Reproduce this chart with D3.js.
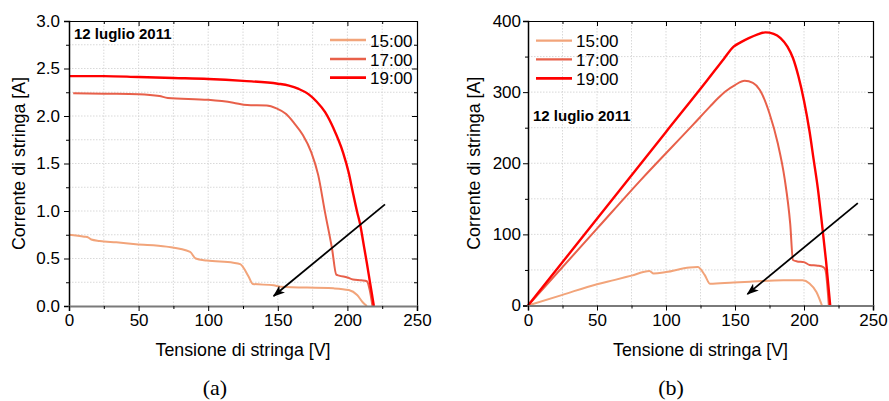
<!DOCTYPE html>
<html><head><meta charset="utf-8">
<script src="https://cdn.jsdelivr.net/npm/d3@7"></script>
<style>body{margin:0;background:#fff} svg{display:block}</style>
</head><body><svg id="c" width="889" height="401"></svg>
<script>
// ---------- data ----------
const seriesNames = ["15:00", "17:00", "19:00"];
const dateLabel = "12 luglio 2011";
const xTitle = "Tensione di stringa [V]";
const yTitle = "Corrente di stringa [A]";
const panelLabels = ["(a)", "(b)"];

const xTicks = [0, 50, 100, 150, 200, 250];
const xMinorTicks = [25, 75, 125, 175, 225];
const iTicks = [0, 0.5, 1.0, 1.5, 2.0, 2.5, 3.0];
const iMinorTicks = [0.25, 0.75, 1.25, 1.75, 2.25, 2.75];
const pTicks = [0, 100, 200, 300, 400];
const pMinorTicks = [50, 150, 250, 350];

// panel (a): current vs voltage
const ivV15 = [0, 11, 14, 16, 22, 34, 48, 70, 87, 91, 99, 118, 123, 129, 132, 147, 152, 190, 201, 207, 211, 214];
const ivI15 = [0.75, 0.73, 0.72, 0.70, 0.685, 0.67, 0.65, 0.625, 0.57, 0.50, 0.478, 0.456, 0.44, 0.31, 0.232, 0.218, 0.203, 0.186, 0.168, 0.116, 0.04, 0.0];
const ivV17 = [3, 25, 50, 65, 71, 100, 118, 128, 142, 149, 156, 162, 168, 174, 179, 184, 189, 192, 194, 200, 204, 210, 214, 216, 218];
const ivI17 = [2.24, 2.235, 2.23, 2.21, 2.19, 2.17, 2.14, 2.115, 2.11, 2.08, 2.02, 1.92, 1.80, 1.62, 1.38, 0.98, 0.60, 0.33, 0.32, 0.30, 0.28, 0.27, 0.26, 0.17, 0.0];
const ivV19 = [0, 25, 50, 75, 100, 125, 150, 158, 165, 172, 178, 184, 190, 197, 201, 204, 207, 209, 212, 214, 216, 218, 219];
const ivI19 = [2.42, 2.42, 2.41, 2.40, 2.39, 2.37, 2.34, 2.32, 2.285, 2.23, 2.15, 2.04, 1.87, 1.61, 1.40, 1.19, 0.99, 0.87, 0.62, 0.45, 0.27, 0.09, 0.0];

// panel (b): power-like curve vs voltage
const pvV15 = [0, 25, 50, 63, 75, 88, 91, 100, 117, 123, 128, 132, 149, 161, 185, 199, 204, 209, 213];
const pvP15 = [0, 15, 30, 36, 42, 48.5, 45, 47, 53.5, 54, 43, 30.5, 32.5, 33.5, 35.5, 35.5, 31, 19, 0];
const pvV17 = [0, 50, 82, 120, 132, 138, 143, 150, 157, 163, 168, 175, 181, 186, 190, 192, 195, 200, 204, 210, 214, 215.5, 218];
const pvP17 = [0, 108, 177, 255, 280, 292, 301, 310, 316, 313, 303, 270, 228, 178, 115, 64, 62, 61, 57, 56, 54, 50, 0];
const pvV19 = [0, 50, 100, 130, 142, 149, 154, 160, 166, 172, 178, 183, 188, 192, 196, 200, 204, 207, 210, 213, 216, 219];
const pvP19 = [0, 122, 244, 317, 347, 364, 370, 376, 381, 384, 382, 376, 364, 348, 322, 288, 245, 205, 165, 115, 62, 0];

// arrows [x0, y0, x1(tip), y1(tip)] in data units
const arrowA = [227, 1.07, 147, 0.105];
const arrowB = [239, 144, 159, 16];

// ---------- styles ----------
const colors = ["#F2A47A", "#E8604A", "#FF0000"];
const widths = [2, 2, 2.4];
const FONT = "'Liberation Sans', Arial, Helvetica, sans-serif";

const svg = d3.select("#c");
const defs = svg.append("defs");
defs.append("marker").attr("id", "ah").attr("markerUnits", "userSpaceOnUse")
  .attr("viewBox", "0 0 12 9").attr("markerWidth", 12).attr("markerHeight", 9)
  .attr("refX", 11).attr("refY", 4.5).attr("orient", "auto")
  .append("path").attr("d", "M0,0 L12,4.5 L0,9 L3,4.5 Z").attr("fill", "#000");

function panel(cfg) {
  const x = d3.scaleLinear().domain([0, 250]).range([cfg.x0, cfg.x1]);
  const y = d3.scaleLinear().domain(cfg.yDomain).range([cfg.y0, cfg.y1]);
  const g = svg.append("g");

  // grid
  const grid = g.append("g").attr("stroke", "#cfcfcf").attr("stroke-width", 0.8).attr("stroke-dasharray", "1.5,1.5");
  xTicks.concat(xMinorTicks).filter(v => v > 0 && v < 250).forEach(v =>
    grid.append("line").attr("x1", x(v)).attr("x2", x(v)).attr("y1", cfg.y0).attr("y2", cfg.y1));
  cfg.yTicks.concat(cfg.yMinor).filter(v => v > cfg.yDomain[0] && v < cfg.yDomain[1]).forEach(v =>
    grid.append("line").attr("y1", y(v)).attr("y2", y(v)).attr("x1", cfg.x0).attr("x2", cfg.x1));

  // curves
  cfg.series.forEach((s, i) => {
    const pts = s[0].map((v, k) => [v, s[1][k]]);
    g.append("path").datum(pts)
      .attr("d", d3.line().x(d => x(d[0])).y(d => y(d[1])).curve(d3.curveMonotoneX))
      .attr("fill", "none").attr("stroke", colors[i]).attr("stroke-width", widths[i])
      .attr("stroke-linejoin", "round");
  });

  // arrow
  const a = cfg.arrow;
  g.append("line").attr("x1", x(a[0])).attr("y1", y(a[1])).attr("x2", x(a[2])).attr("y2", y(a[3]))
    .attr("stroke", "#000").attr("stroke-width", 1.8).attr("marker-end", "url(#ah)");

  // axes
  const styleAx = sel => { sel.selectAll("text").attr("font-family", FONT).attr("font-size", 17).attr("fill", "#000");
    sel.selectAll("line").attr("stroke", "#000").attr("stroke-width", 1); };
  // top (inward)
  g.append("g").attr("transform", `translate(0,${cfg.y1})`)
    .call(d3.axisTop(x).tickValues(xTicks).tickSize(-5).tickFormat("")).call(styleAx)
    .call(s => s.select(".domain").attr("stroke", "#000").attr("stroke-width", 1));
  g.append("g").attr("transform", `translate(0,${cfg.y1})`)
    .call(d3.axisTop(x).tickValues(xMinorTicks).tickSize(-3).tickFormat("")).call(styleAx)
    .call(s => s.select(".domain").remove());
  // right (inward)
  g.append("g").attr("transform", `translate(${cfg.x1},0)`)
    .call(d3.axisRight(y).tickValues(cfg.yTicks).tickSize(-5).tickFormat("")).call(styleAx)
    .call(s => s.select(".domain").attr("stroke", "#000").attr("stroke-width", 1.2));
  g.append("g").attr("transform", `translate(${cfg.x1},0)`)
    .call(d3.axisRight(y).tickValues(cfg.yMinor).tickSize(-3).tickFormat("")).call(styleAx)
    .call(s => s.select(".domain").remove());
  // left
  g.append("g").attr("transform", `translate(${cfg.x0},0)`)
    .call(d3.axisLeft(y).tickValues(cfg.yTicks).tickSize(5).tickPadding(cfg.yPad).tickFormat(cfg.yFmt)).call(styleAx)
    .call(s => s.select(".domain").attr("stroke", "#000").attr("stroke-width", 1.5));
  g.append("g").attr("transform", `translate(${cfg.x0},0)`)
    .call(d3.axisLeft(y).tickValues(cfg.yMinor).tickSize(3).tickFormat("")).call(styleAx)
    .call(s => s.select(".domain").remove());
  // bottom
  g.append("g").attr("transform", `translate(0,${cfg.y0})`)
    .call(d3.axisBottom(x).tickValues(xTicks).tickSize(5).tickPadding(3).tickFormat(d3.format("d"))).call(styleAx)
    .call(s => s.select(".domain").attr("stroke", "#7a7a7a").attr("stroke-width", 2));
  g.append("g").attr("transform", `translate(0,${cfg.y0})`)
    .call(d3.axisBottom(x).tickValues(xMinorTicks).tickSize(3).tickFormat("")).call(styleAx)
    .call(s => s.select(".domain").remove());

  // titles
  g.append("text").attr("x", (cfg.x0 + cfg.x1) / 2).attr("y", 356).attr("text-anchor", "middle")
    .attr("font-family", FONT).attr("font-size", 17.8).text(xTitle);
  g.append("text").attr("transform", `translate(${cfg.yTitleX},${(cfg.y0 + cfg.y1) / 2}) rotate(-90)`)
    .attr("text-anchor", "middle").attr("font-family", FONT).attr("font-size", 17.8).text(yTitle);
  g.append("text").attr("x", cfg.labelX).attr("y", 395).attr("text-anchor", "middle")
    .attr("font-family", "'Liberation Serif', 'Times New Roman', serif").attr("font-size", 22).text(cfg.label);

  // date
  g.append("text").attr("x", cfg.dateX).attr("y", cfg.dateY).attr("font-family", FONT)
    .attr("font-weight", "bold").attr("font-size", 15).text(dateLabel);

  // legend
  seriesNames.forEach((n, i) => {
    const ly = cfg.legY[i];
    g.append("line").attr("x1", cfg.legX).attr("x2", cfg.legX + 36).attr("y1", ly).attr("y2", ly)
      .attr("stroke", colors[i]).attr("stroke-width", widths[i] + 0.3);
    g.append("text").attr("x", cfg.legX + 40).attr("y", ly + 6.5).attr("font-family", FONT)
      .attr("font-size", 17).text(n);
  });
}

panel({
  x0: 69, x1: 417, y0: 306, y1: 21, yDomain: [0, 3], yTicks: iTicks, yMinor: iMinorTicks,
  yFmt: d3.format(".1f"), yPad: 4, yTitleX: 25, label: panelLabels[0], labelX: 215,
  dateX: 74, dateY: 38.5, legX: 330, legY: [40, 59, 77.7], arrow: arrowA,
  series: [[ivV15, ivI15], [ivV17, ivI17], [ivV19, ivI19]]
});
panel({
  x0: 528, x1: 873, y0: 305.5, y1: 21, yDomain: [0, 400], yTicks: pTicks, yMinor: pMinorTicks,
  yFmt: d3.format("d"), yPad: 2, yTitleX: 480, label: panelLabels[1], labelX: 671,
  dateX: 533, dateY: 121, legX: 536, legY: [40.7, 59.3, 78.3], arrow: arrowB,
  series: [[pvV15, pvP15], [pvV17, pvP17], [pvV19, pvP19]]
});
</script></body></html>
